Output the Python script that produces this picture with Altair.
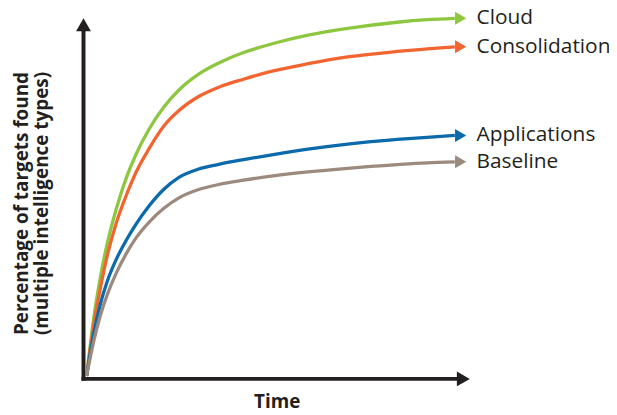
import altair as alt
import pandas as pd

# ---- data ----
series_names = ["Cloud", "Consolidation", "Applications", "Baseline"]
series_colors = ["#8dc63f", "#f26430", "#0a6aab", "#9c8a7f"]

time = [0.8, 2.6, 4.4, 6.2, 8.5, 11.1, 13.6, 17.0, 20.8, 24.7,
        29.8, 35.0, 41.4, 49.1, 58.1, 68.4, 81.2, 88.9, 96.1]

cloud = [0.8, 16.5, 28.4, 37.8, 47.2, 55.8, 62.3, 69.3, 75.4, 80.1,
         84.5, 87.6, 90.5, 93.0, 95.3, 97.2, 98.9, 99.6, 100.0]
consolidation = [0.8, 14.6, 25.3, 34.4, 43.3, 51.0, 57.3, 63.9, 70.1, 74.4,
                 78.3, 80.9, 83.1, 85.4, 87.4, 89.3, 90.8, 91.5, 92.1]
applications = [0.8, 12.3, 20.9, 27.2, 33.2, 38.5, 42.9, 48.0, 52.6, 55.9,
                58.2, 59.5, 60.8, 62.2, 63.7, 65.1, 66.4, 67.0, 67.5]
baseline = [0.8, 10.2, 17.7, 23.5, 29.4, 34.8, 39.1, 43.5, 47.3, 50.2,
            52.5, 53.9, 55.1, 56.3, 57.4, 58.4, 59.4, 59.9, 60.2]

series_values = [cloud, consolidation, applications, baseline]

x_title = "Time"
y_title = ["Percentage of targets found", "(multiple intelligence types)"]

# axis extents (data units) and arrowhead positions
axis_x_end = 96.6
axis_y_end = 96.4
axis_x_head = 98.3
axis_y_head = 98.2
curve_head_x = 97.6

# ---- tables ----
lines_df = pd.DataFrame(
    [{"series": n, "x": t, "y": v}
     for n, vals in zip(series_names, series_values)
     for t, v in zip(time, vals)]
)
heads_df = pd.DataFrame(
    [{"series": n, "x": curve_head_x, "y": vals[-1]}
     for n, vals in zip(series_names, series_values)]
)
axis_lines_df = pd.DataFrame([
    {"x": 0, "y": 0, "x2": axis_x_end, "y2": 0},
    {"x": 0, "y": 0, "x2": 0, "y2": axis_y_end},
])
x_head_df = pd.DataFrame([{"x": axis_x_head, "y": 0}])
y_head_df = pd.DataFrame([{"x": 0, "y": axis_y_head}])

INK = "#231f20"
FONT = "Open Sans"

xscale = alt.Scale(domain=[0, 100], nice=False, zero=False)
yscale = alt.Scale(domain=[0, 100], nice=False, zero=False)

xaxis = alt.Axis(title=x_title, domain=False, ticks=False, labels=False, grid=False,
                 titleFont=FONT, titleFontSize=19, titleFontWeight="bold",
                 titleColor=INK, titleBaseline="alphabetic", titleY=29)
yaxis = alt.Axis(title=y_title, domain=False, ticks=False, labels=False, grid=False,
                 titleFont=FONT, titleFontSize=19, titleFontWeight="bold",
                 titleColor=INK, titleAngle=270, titleAlign="center",
                 titleBaseline="alphabetic", titleX=-56, titleY=186,
                 titleLineHeight=20)

X = alt.X("x:Q", scale=xscale, axis=xaxis)
Y = alt.Y("y:Q", scale=yscale, axis=yaxis)
color = alt.Color("series:N", scale=alt.Scale(domain=series_names, range=series_colors),
                  legend=None)

axes = alt.Chart(axis_lines_df).mark_rule(color=INK, strokeWidth=4, strokeCap="square").encode(
    x=X, y=Y, x2="x2:Q", y2="y2:Q")

x_head = alt.Chart(x_head_df).mark_point(shape="triangle-right", filled=True, opacity=1,
                                         color=INK, size=225, strokeWidth=0).encode(x=X, y=Y)
y_head = alt.Chart(y_head_df).mark_point(shape="triangle-up", filled=True, opacity=1,
                                         color=INK, size=225, strokeWidth=0).encode(x=X, y=Y)

lines = alt.Chart(lines_df).mark_line(strokeWidth=3.3, interpolate="monotone").encode(
    x=X, y=Y, color=color, detail="series:N",
    order=alt.Order("x:Q"))

heads = alt.Chart(heads_df).mark_point(shape="triangle-right", filled=True, opacity=1,
                                       size=169, strokeWidth=0).encode(x=X, y=Y, color=color)

labels = alt.Chart(heads_df).mark_text(align="left", baseline="middle", dx=16, dy=0,
                                       font=FONT, fontSize=21, color=INK).encode(
    x=X, y=Y, text="series:N")

chart = alt.layer(axes, lines, heads, x_head, y_head, labels).properties(
    width=389, height=363,
    autosize=alt.AutoSizeParams(type="none"),
    padding={"left": 76, "top": 9, "right": 140, "bottom": 33},
    background="white",
).configure_view(stroke=None)

chart.save("out.html", embed_options={"renderer": "svg", "actions": False})
